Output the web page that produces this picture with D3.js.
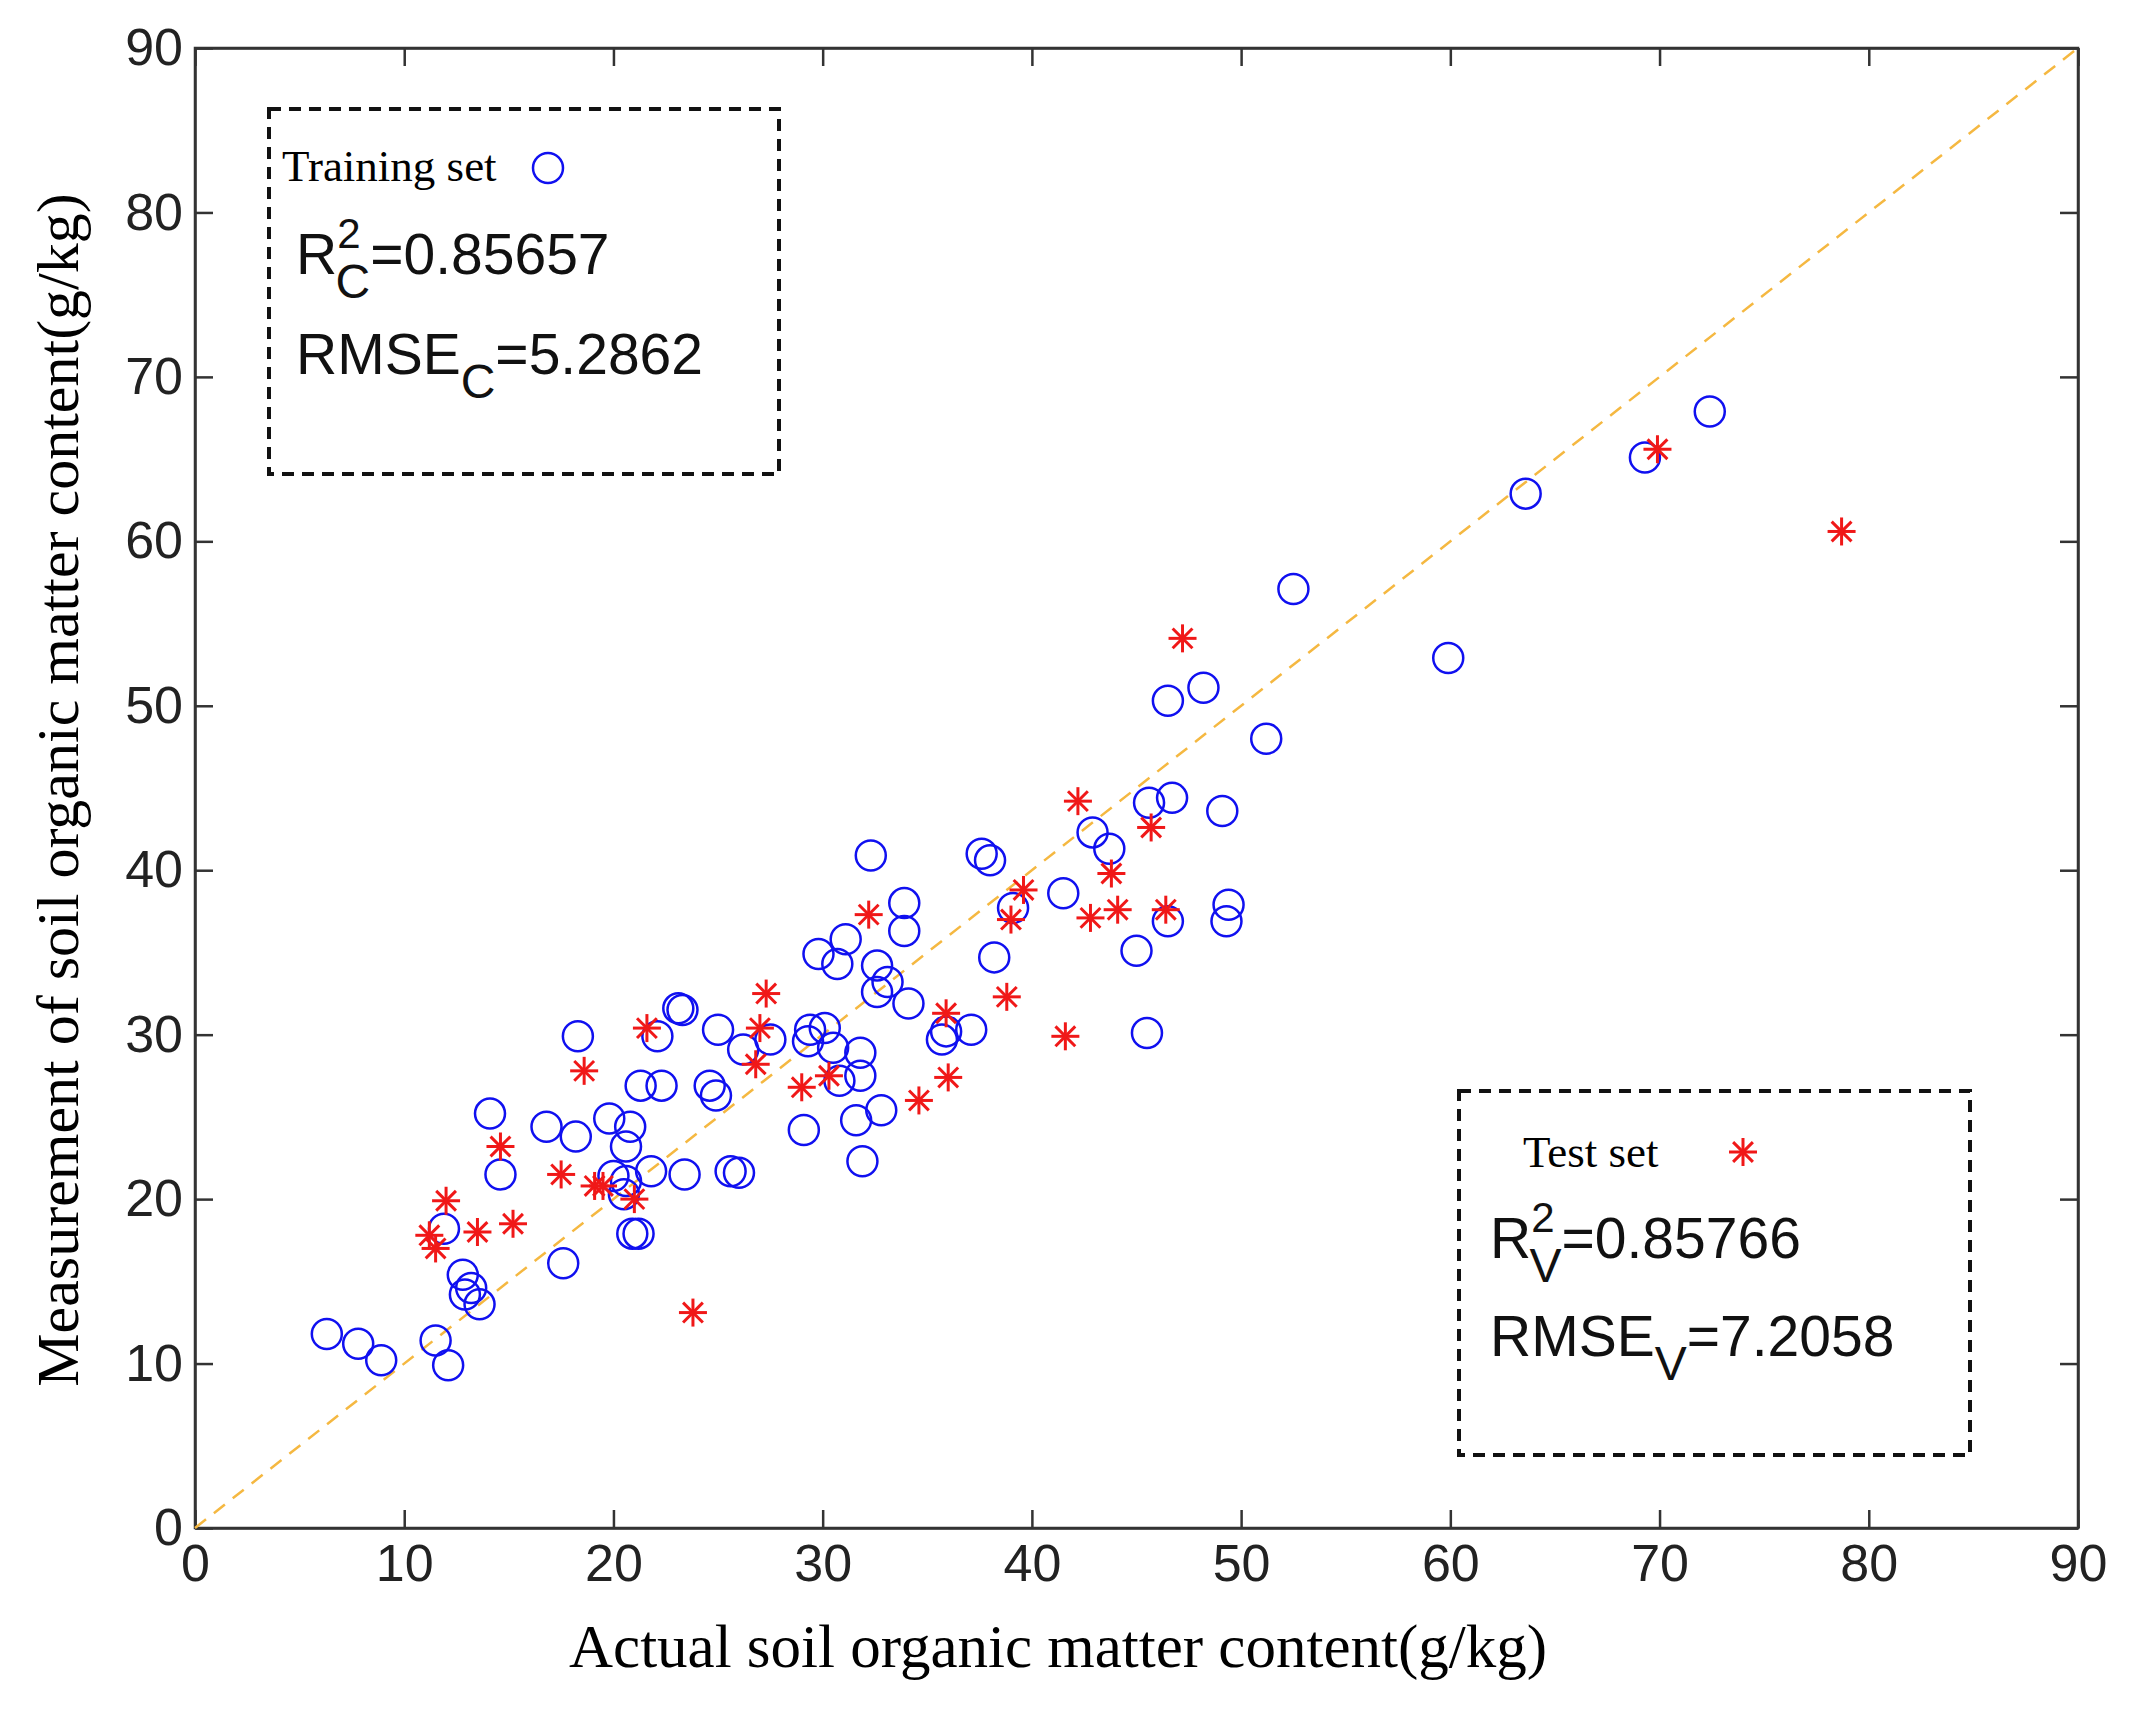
<!DOCTYPE html><html><head><meta charset="utf-8"><script src="https://cdn.jsdelivr.net/npm/d3@7"></script>
<style>body{margin:0;background:#fff}</style></head><body><svg id="c" width="2131" height="1710"></svg><script>
const xTicks=[0,10,20,30,40,50,60,70,80,90];
const yTicks=[0,10,20,30,40,50,60,70,80,90];
const trainX=[6.3,7.8,8.9,11.5,12.1,11.9,12.8,12.9,13.2,13.6,14.1,14.6,16.8,17.6,18.2,18.3,19.8,20.0,20.5,20.6,20.6,20.8,20.9,21.2,21.3,21.8,22.1,22.3,23.1,23.3,23.4,24.6,24.9,25.0,25.6,26.0,26.2,27.5,29.1,29.3,29.4,29.8,30.1,30.5,30.7,30.8,31.1,31.6,31.8,31.8,31.9,32.3,32.6,32.6,32.8,33.1,33.9,33.9,34.1,35.7,35.9,37.1,37.6,38.0,38.2,39.1,41.5,42.9,43.7,45.0,45.5,45.6,46.5,46.5,46.7,48.2,49.1,49.3,49.4,51.2,52.5,59.9,63.6,69.3,72.4];
const trainY=[11.8,11.2,10.2,11.4,9.9,18.2,15.4,14.2,14.6,13.6,25.2,21.5,24.4,16.1,23.8,29.9,24.9,21.4,20.3,21.1,23.2,24.4,17.9,17.9,26.9,21.7,29.9,26.9,31.6,31.5,21.5,26.9,26.3,30.3,21.7,21.6,29.1,29.7,24.2,29.6,30.3,34.9,30.4,29.2,34.3,27.2,35.8,24.8,28.9,27.5,22.3,40.9,34.2,32.6,25.4,33.2,38.0,36.3,31.9,29.7,30.2,30.3,41.0,40.6,34.7,37.7,38.6,42.3,41.3,35.1,30.1,44.1,50.3,36.9,44.4,51.1,43.6,36.9,37.9,48.0,57.1,52.9,62.9,65.1,67.9];
const testX=[11.2,11.5,12.0,13.5,14.6,15.2,17.5,18.6,19.1,19.5,21.0,21.6,23.8,26.8,27.0,27.3,29.0,30.3,32.2,34.6,35.9,36.0,38.8,39.0,39.6,41.6,42.2,42.8,43.8,44.1,45.7,46.4,47.2,69.9,78.7];
const testY=[17.8,17.0,19.9,18.0,23.2,18.5,21.5,27.8,20.8,20.8,20.0,30.4,13.1,28.2,30.4,32.5,26.8,27.5,37.3,26.0,31.3,27.4,32.3,37.0,38.8,29.9,44.2,37.1,39.8,37.6,42.6,37.6,54.1,65.6,60.6];
const xLabel="Actual soil organic matter content(g/kg)";
const yLabel="Measurement of soil organic matter content(g/kg)";

const svg=d3.select("#c");
const L=195,R=2078,T=48,B=1528;
const x=d3.scaleLinear().domain([0,90]).range([L,R]);
const y=d3.scaleLinear().domain([0,90]).range([B,T]);
const tick=18;
const ax=svg.append("g").attr("transform",`translate(0,${B})`).call(d3.axisBottom(x).tickValues(xTicks).tickSizeInner(-tick).tickSizeOuter(0).tickPadding(16));
const ax2=svg.append("g").attr("transform",`translate(0,${T})`).call(d3.axisTop(x).tickValues(xTicks).tickSizeInner(-tick).tickSizeOuter(0).tickFormat(""));
const ay=svg.append("g").attr("transform",`translate(${L},0)`).call(d3.axisLeft(y).tickValues(yTicks).tickSizeInner(-tick).tickSizeOuter(0).tickPadding(12));
const ay2=svg.append("g").attr("transform",`translate(${R},0)`).call(d3.axisRight(y).tickValues(yTicks).tickSizeInner(-tick).tickSizeOuter(0).tickFormat(""));
[ax,ax2,ay,ay2].forEach(g=>{g.selectAll("path,line").attr("stroke","#333").attr("stroke-width",2.5);g.selectAll("text").attr("font-family","Liberation Sans, Arial").attr("font-size",52).attr("fill","#222");});
svg.append("rect").attr("x",L).attr("y",T).attr("width",R-L).attr("height",B-T).attr("fill","none").attr("stroke","#333").attr("stroke-width",2.5);
svg.append("line").attr("x1",x(0)).attr("y1",y(0)).attr("x2",x(90)).attr("y2",y(90)).attr("stroke","#f5b841").attr("stroke-width",2.5).attr("stroke-dasharray","14,10");
svg.append("text").attr("x",1058).attr("y",1667).attr("text-anchor","middle").attr("font-family","Liberation Serif, Times New Roman").attr("font-size",61).text(xLabel);
svg.append("text").attr("transform",`translate(78,${790}) rotate(-90)`).attr("text-anchor","middle").attr("font-family","Liberation Serif, Times New Roman").attr("font-size",60).text(yLabel);

const blue="#1010f0", red="#f01818";
svg.append("g").selectAll("circle").data(trainX).join("circle").attr("cx",d=>x(d)).attr("cy",(d,i)=>y(trainY[i])).attr("r",15).attr("fill","none").attr("stroke",blue).attr("stroke-width",2.5);
function star(g,cx,cy,r){for(let k=0;k<4;k++){const a=k*Math.PI/4;g.append("line").attr("x1",cx-r*Math.cos(a)).attr("y1",cy-r*Math.sin(a)).attr("x2",cx+r*Math.cos(a)).attr("y2",cy+r*Math.sin(a)).attr("stroke",red).attr("stroke-width",3);}}
const sg=svg.append("g");
testX.forEach((d,i)=>star(sg,x(d),y(testY[i]),14));

function box(x0,y0,x1,y1){svg.append("rect").attr("x",x0).attr("y",y0).attr("width",x1-x0).attr("height",y1-y0).attr("fill","#fff").attr("stroke","#111").attr("stroke-width",4).attr("stroke-dasharray","12,8");}
box(269,109,779,474);
svg.append("text").attr("x",282).attr("y",181).attr("font-family","Liberation Serif, Times New Roman").attr("font-size",45).text("Training set");
svg.append("circle").attr("cx",548).attr("cy",168).attr("r",15).attr("fill","none").attr("stroke",blue).attr("stroke-width",2.5);
function stat(xp,yp,main,sup,sub,val){const t=svg.append("text").attr("x",xp).attr("y",yp).attr("font-family","Liberation Sans, Arial").attr("font-size",57).attr("fill","#111");
 t.append("tspan").text(main);
 if(sup){t.append("tspan").attr("dy",-26).attr("font-size",42).text(sup);t.append("tspan").attr("dx",-25).attr("dy",50).attr("font-size",48).text(sub);t.append("tspan").attr("dy",-24).text(val);}
 else{t.append("tspan").attr("dy",24).attr("font-size",48).text(sub);t.append("tspan").attr("dy",-24).text(val);}}
stat(296,274,"R","2","C","=0.85657");
stat(296,374,"RMSE",null,"C","=5.2862");
box(1459,1091,1970,1455);
svg.append("text").attr("x",1523).attr("y",1167).attr("font-family","Liberation Serif, Times New Roman").attr("font-size",45).text("Test set");
star(svg,1743,1152,14);
stat(1490,1258,"R","2","V","=0.85766");
stat(1490,1356,"RMSE",null,"V","=7.2058");
</script></body></html>
